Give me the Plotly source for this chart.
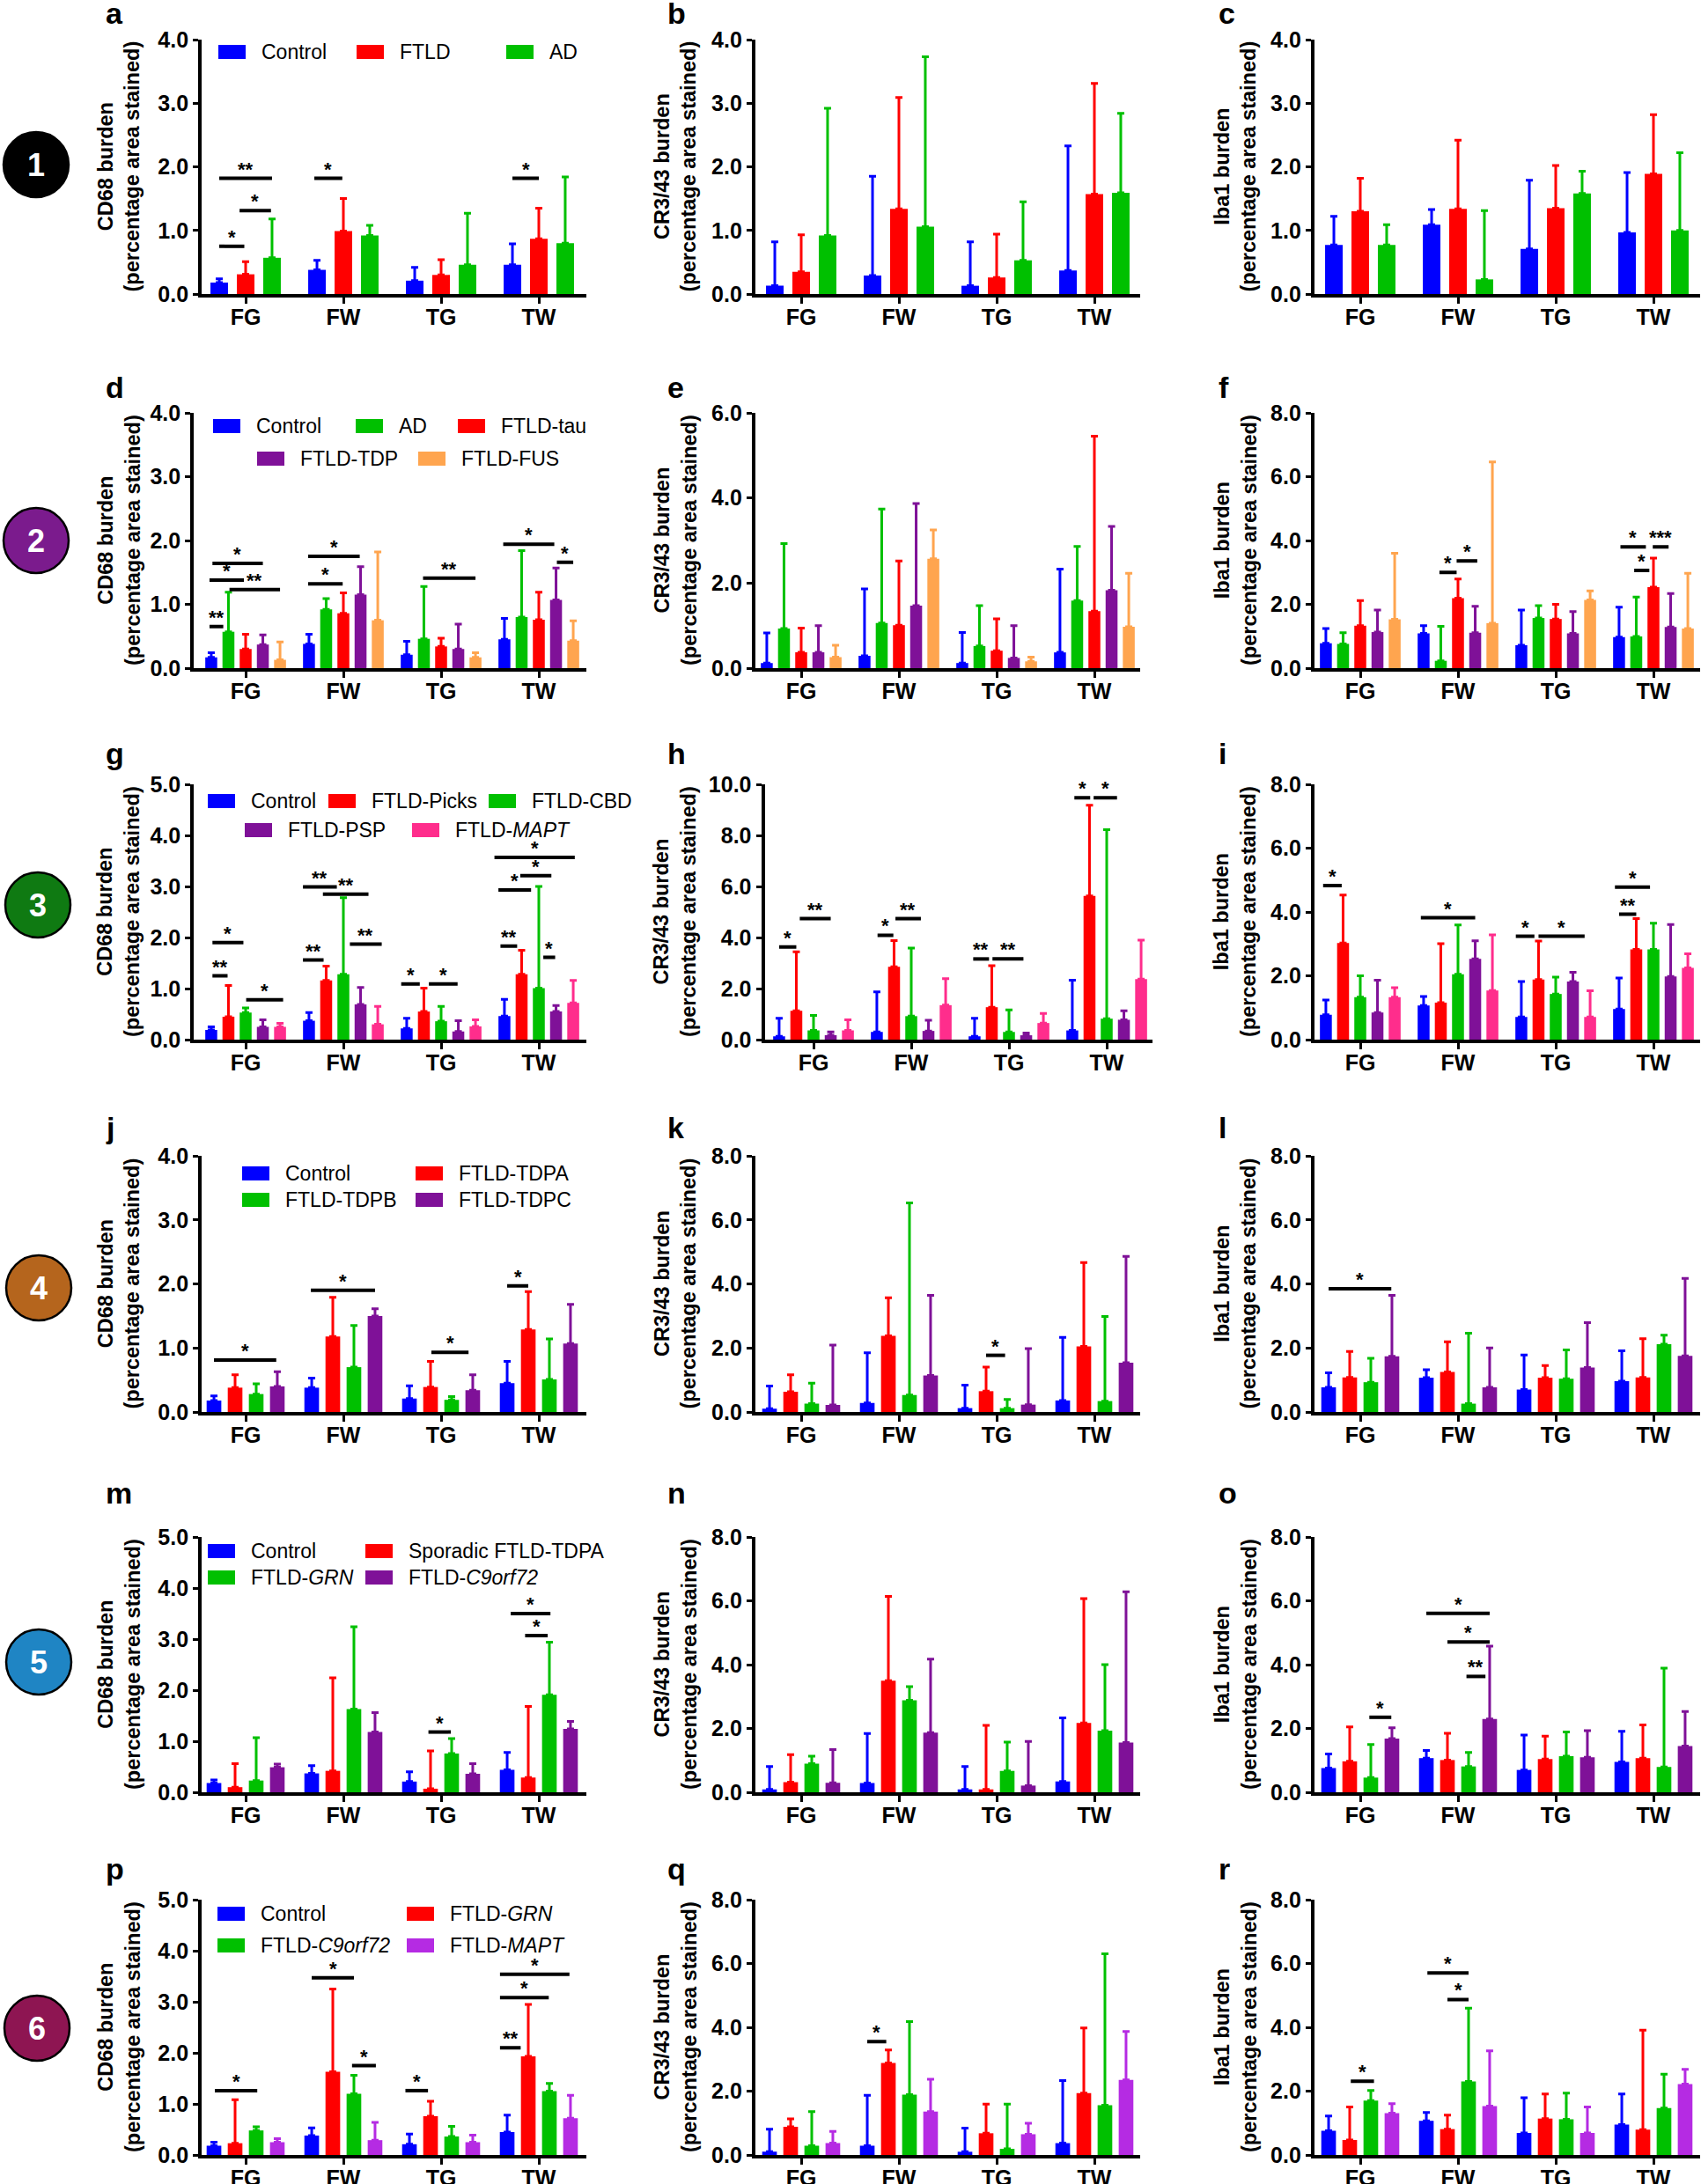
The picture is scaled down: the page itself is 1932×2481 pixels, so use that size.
import plotly.graph_objects as go

W, H = 1932, 2481
FONT = "Liberation Sans, Arial, Helvetica, sans-serif"

REGIONS = ["FG", "FW", "TG", "TW"]
Y_TITLES = ["CD68 burden", "CR3/43 burden", "Iba1 burden"]
Y_SUB = "(percentage area stained)"

BLUE, RED, GREEN = "#0000FF", "#FF0000", "#00C000"
PURPLE, ORANGE, PINK, VIOLET = "#7F1198", "#FFA54F", "#FF2D8C", "#B52BE3"

# ---------------- series per row ----------------
row1_names = ["Control", "FTLD", "AD"]
row1_colors = [BLUE, RED, GREEN]
row2_names = ["Control", "AD", "FTLD-tau", "FTLD-TDP", "FTLD-FUS"]
row2_colors = [BLUE, GREEN, RED, PURPLE, ORANGE]
row3_names = ["Control", "FTLD-Picks", "FTLD-CBD", "FTLD-PSP", "FTLD-<i>MAPT</i>"]
row3_colors = [BLUE, RED, GREEN, PURPLE, PINK]
row4_names = ["Control", "FTLD-TDPA", "FTLD-TDPB", "FTLD-TDPC"]
row4_colors = [BLUE, RED, GREEN, PURPLE]
row5_names = ["Control", "Sporadic FTLD-TDPA", "FTLD-<i>GRN</i>", "FTLD-<i>C9orf72</i>"]
row5_colors = [BLUE, RED, GREEN, PURPLE]
row6_names = ["Control", "FTLD-<i>GRN</i>", "FTLD-<i>C9orf72</i>", "FTLD-<i>MAPT</i>"]
row6_colors = [BLUE, RED, GREEN, VIOLET]

# ---------------- values: mean per series (FG, FW, TG, TW) and top of error bar ----------------
a_mean = [[0.18, 0.38, 0.21, 0.46], [0.31, 0.99, 0.30, 0.87], [0.57, 0.92, 0.46, 0.80]]
a_up = [[0.24, 0.53, 0.42, 0.79], [0.51, 1.50, 0.54, 1.35], [1.18, 1.08, 1.27, 1.84]]
b_mean = [[0.13, 0.29, 0.13, 0.37], [0.35, 1.34, 0.26, 1.57], [0.92, 1.06, 0.53, 1.59]]
b_up = [[0.82, 1.85, 0.82, 2.33], [0.93, 3.09, 0.94, 3.31], [2.92, 3.73, 1.45, 2.84]]
c_mean = [[0.77, 1.09, 0.71, 0.97], [1.30, 1.34, 1.35, 1.89], [0.77, 0.23, 1.58, 1.00]]
c_up = [[1.22, 1.33, 1.79, 1.91], [1.82, 2.42, 2.02, 2.82], [1.09, 1.31, 1.93, 2.22]]

d_mean = [[0.17, 0.38, 0.21, 0.45], [0.57, 0.92, 0.46, 0.80], [0.30, 0.86, 0.34, 0.76],
          [0.37, 1.15, 0.30, 1.07], [0.13, 0.75, 0.17, 0.43]]
d_up = [[0.24, 0.53, 0.42, 0.78], [1.19, 1.09, 1.28, 1.84], [0.53, 1.18, 0.47, 1.19],
        [0.52, 1.59, 0.69, 1.57], [0.41, 1.82, 0.24, 0.74]]
e_mean = [[0.12, 0.29, 0.12, 0.37], [0.93, 1.06, 0.52, 1.59], [0.37, 1.01, 0.41, 1.34],
          [0.37, 1.47, 0.24, 1.83], [0.26, 2.57, 0.16, 0.97]]
e_up = [[0.83, 1.86, 0.84, 2.33], [2.93, 3.74, 1.47, 2.86], [0.94, 2.52, 1.16, 5.45],
        [1.00, 3.87, 1.00, 3.33], [0.54, 3.25, 0.26, 2.23]]
f_mean = [[0.78, 1.09, 0.72, 0.97], [0.76, 0.23, 1.57, 0.99], [1.33, 2.19, 1.54, 2.54],
          [1.13, 1.11, 1.09, 1.29], [1.53, 1.41, 2.14, 1.24]]
f_up = [[1.24, 1.33, 1.82, 1.91], [1.11, 1.31, 1.96, 2.23], [2.12, 2.79, 2.00, 3.45],
        [1.82, 1.94, 1.77, 2.34], [3.60, 6.46, 2.42, 2.97]]

g_mean = [[0.19, 0.37, 0.22, 0.46], [0.45, 1.16, 0.55, 1.28], [0.53, 1.28, 0.36, 1.01],
          [0.25, 0.69, 0.16, 0.55], [0.25, 0.30, 0.26, 0.72]]
g_up = [[0.25, 0.53, 0.42, 0.79], [1.06, 1.44, 1.01, 1.75], [0.62, 2.78, 0.65, 3.00],
        [0.39, 1.02, 0.37, 0.67], [0.32, 0.65, 0.39, 1.16]]
h_mean = [[0.13, 0.30, 0.13, 0.36], [1.13, 2.85, 1.27, 5.63], [0.36, 0.92, 0.30, 0.82],
          [0.17, 0.34, 0.17, 0.78], [0.36, 1.35, 0.65, 2.37]]
h_up = [[0.84, 1.87, 0.84, 2.33], [3.44, 3.88, 2.90, 9.18], [0.95, 3.59, 1.16, 8.22],
        [0.30, 0.76, 0.26, 1.13], [0.78, 2.39, 1.03, 3.90]]
i_mean = [[0.78, 1.07, 0.71, 0.96], [3.03, 1.16, 1.88, 2.83], [1.33, 2.05, 1.43, 2.83],
          [0.85, 2.53, 1.82, 1.98], [1.33, 1.54, 0.71, 2.25]]
i_up = [[1.24, 1.35, 1.82, 1.93], [4.53, 3.01, 3.09, 3.79], [2.00, 3.59, 1.96, 3.65],
        [1.86, 3.10, 2.11, 3.61], [1.63, 3.28, 1.53, 2.69]]

j_mean = [[0.18, 0.38, 0.21, 0.45], [0.38, 1.18, 0.39, 1.29], [0.28, 0.70, 0.19, 0.51], [0.40, 1.50, 0.34, 1.07]]
j_up = [[0.25, 0.53, 0.41, 0.79], [0.58, 1.79, 0.79, 1.88], [0.44, 1.35, 0.24, 1.14], [0.63, 1.61, 0.58, 1.68]]
k_mean = [[0.10, 0.28, 0.12, 0.36], [0.63, 2.38, 0.65, 2.05], [0.26, 0.53, 0.12, 0.34], [0.22, 1.14, 0.23, 1.54]]
k_up = [[0.81, 1.85, 0.84, 2.33], [1.16, 3.57, 1.40, 4.67], [0.90, 6.53, 0.39, 2.98], [2.09, 3.64, 1.98, 4.86]]
l_mean = [[0.77, 1.07, 0.70, 0.96], [1.08, 1.25, 1.07, 1.08], [0.93, 0.26, 1.04, 2.12], [1.74, 0.77, 1.39, 1.75]]
l_up = [[1.22, 1.32, 1.78, 1.91], [1.89, 2.19, 1.45, 2.29], [1.68, 2.46, 1.94, 2.40], [3.64, 2.00, 2.79, 4.17]]

m_mean = [[0.18, 0.37, 0.21, 0.44], [0.10, 0.42, 0.07, 0.29], [0.23, 1.63, 0.76, 1.91], [0.49, 1.18, 0.36, 1.24]]
m_up = [[0.24, 0.52, 0.40, 0.78], [0.56, 2.24, 0.81, 1.68], [1.07, 3.24, 1.05, 2.94], [0.55, 1.56, 0.56, 1.39]]
n_mean = [[0.09, 0.29, 0.09, 0.34], [0.32, 3.50, 0.09, 2.17], [0.90, 2.88, 0.67, 1.93], [0.30, 1.87, 0.21, 1.56]]
n_up = [[0.81, 1.84, 0.81, 2.33], [1.18, 6.14, 2.10, 6.07], [1.13, 3.31, 1.57, 4.00], [1.34, 4.17, 1.59, 6.28]]
o_mean = [[0.76, 1.07, 0.70, 0.95], [0.97, 1.01, 1.04, 1.07], [0.46, 0.81, 1.13, 0.79], [1.68, 2.30, 1.10, 1.45]]
o_up = [[1.20, 1.31, 1.79, 1.91], [2.05, 1.85, 1.76, 2.11], [1.50, 1.25, 1.89, 3.89], [2.02, 4.58, 1.93, 2.53]]

p_mean = [[0.18, 0.38, 0.21, 0.45], [0.23, 1.63, 0.76, 1.93], [0.48, 1.20, 0.36, 1.25], [0.25, 0.29, 0.25, 0.72]]
p_up = [[0.25, 0.53, 0.41, 0.78], [1.08, 3.25, 1.05, 2.95], [0.55, 1.56, 0.56, 1.40], [0.32, 0.64, 0.39, 1.17]]
q_mean = [[0.10, 0.29, 0.10, 0.37], [0.88, 2.88, 0.68, 1.94], [0.29, 1.89, 0.19, 1.56], [0.37, 1.36, 0.65, 2.35]]
q_up = [[0.81, 1.87, 0.84, 2.33], [1.13, 3.29, 1.59, 3.98], [1.36, 4.18, 1.59, 6.30], [0.74, 2.37, 0.99, 3.87]]
r_mean = [[0.76, 1.07, 0.69, 0.95], [0.47, 0.81, 1.14, 0.79], [1.70, 2.30, 1.12, 1.47], [1.31, 1.53, 0.69, 2.22]]
r_up = [[1.22, 1.33, 1.79, 1.91], [1.50, 1.25, 1.91, 3.91], [2.02, 4.60, 1.94, 2.53], [1.61, 3.26, 1.50, 2.68]]

# ---------------- significance brackets: (region, from bar, to bar, level, label) ----------------
a_sig = [(0, 0, 0.95, 0.75, "*"), (0, 0.77, 1.96, 1.31, "*"), (0, 0, 2, 1.82, "**"),
         (1, -0.1, 0.96, 1.82, "*"), (3, 0, 1, 1.82, "*")]
d_sig = [(0, -0.1, 0.7, 0.65, "**"), (0, -0.1, 1.9, 1.38, "*"), (0, 0.07, 3.0, 1.64, "*"),
         (0, 1.06, 4.0, 1.23, "**"), (1, -0.05, 1.96, 1.32, "*"), (1, -0.05, 2.95, 1.75, "*"),
         (2, 0.95, 4.0, 1.41, "**"), (3, -0.07, 2.9, 1.94, "*"), (3, 3.05, 4.0, 1.66, "*")]
f_sig = [(1, 0.92, 1.92, 3.0, "*"), (1, 1.92, 3.12, 3.36, "*"), (3, 0.08, 1.56, 3.8, "*"),
         (3, 0.88, 1.76, 3.06, "*"), (3, 1.96, 2.88, 3.8, "***")]
g_sig = [(0, 0.07, 0.95, 1.25, "**"), (0, 0.07, 1.87, 1.90, "*"), (0, 2.03, 4.18, 0.78, "*"),
         (1, -0.35, 0.85, 1.56, "**"), (1, -0.35, 1.62, 2.99, "**"), (1, 0.81, 3.46, 2.85, "**"),
         (1, 2.38, 4.23, 1.87, "**"), (2, -0.32, 0.76, 1.09, "*"), (2, 1.29, 2.96, 1.09, "*"),
         (3, -0.23, 0.74, 1.83, "**"), (3, -0.35, 1.55, 2.93, "*"), (3, 0.92, 2.73, 3.21, "*"),
         (3, -0.58, 4.09, 3.57, "*"), (3, 2.26, 2.95, 1.61, "*")]
h_sig = [(0, 0, 1, 3.63, "*"), (0, 1.2, 3.0, 4.74, "**"), (1, 0.04, 0.96, 4.09, "*"),
         (1, 1.08, 2.56, 4.74, "**"), (2, -0.08, 0.84, 3.16, "**"), (2, 1.04, 2.84, 3.16, "**"),
         (3, 0.12, 1.04, 9.47, "*"), (3, 1.24, 2.6, 9.47, "*")]
i_sig = [(0, -0.16, 0.92, 4.83, "*"), (1, -0.16, 3.0, 3.82, "*"), (2, -0.32, 0.76, 3.24, "*"),
         (2, 1.0, 3.68, 3.24, "*"), (3, 0, 1, 3.93, "**"), (3, -0.24, 1.8, 4.78, "*")]
j_sig = [(0, 0, 2.95, 0.81, "*"), (1, -0.04, 3.0, 1.90, "*"), (2, 1.04, 2.8, 0.93, "*"), (3, 0, 1, 1.97, "*")]
k_sig = [(2, 1.0, 1.9, 1.77, "*")]
l_sig = [(0, 0, 2.97, 3.85, "*")]
m_sig = [(2, 0.9, 1.96, 1.18, "*"), (3, 0.85, 1.92, 3.07, "*"), (3, 0.17, 2.05, 3.5, "*")]
o_sig = [(0, 1.93, 2.97, 2.35, "*"), (1, 1.9, 2.8, 3.63, "**"), (1, 1.0, 3.0, 4.71, "*"), (1, 0, 3, 5.61, "*")]
p_sig = [(0, 0.04, 2.05, 1.26, "*"), (1, 0, 2, 3.47, "*"), (1, 1.91, 3.04, 1.75, "*"),
         (2, -0.19, 0.88, 1.26, "*"), (3, -0.34, 0.64, 2.1, "**"), (3, -0.34, 1.97, 3.08, "*"),
         (3, -0.34, 2.95, 3.54, "*")]
q_sig = [(1, 0, 0.9, 3.55, "*")]
r_sig = [(0, 1.05, 2.15, 2.31, "*"), (1, 1, 2, 4.87, "*"), (1, 0.05, 2, 5.7, "*")]

ROW_SERIES = {1: (row1_names, row1_colors), 2: (row2_names, row2_colors), 3: (row3_names, row3_colors),
              4: (row4_names, row4_colors), 5: (row5_names, row5_colors), 6: (row6_names, row6_colors)}

# letter, row, col, y max, y step, means, uppers, brackets
PANELS = [
    ("a", 1, 1, 4, 1, a_mean, a_up, a_sig), ("b", 1, 2, 4, 1, b_mean, b_up, []), ("c", 1, 3, 4, 1, c_mean, c_up, []),
    ("d", 2, 1, 4, 1, d_mean, d_up, d_sig), ("e", 2, 2, 6, 2, e_mean, e_up, []), ("f", 2, 3, 8, 2, f_mean, f_up, f_sig),
    ("g", 3, 1, 5, 1, g_mean, g_up, g_sig), ("h", 3, 2, 10, 2, h_mean, h_up, h_sig), ("i", 3, 3, 8, 2, i_mean, i_up, i_sig),
    ("j", 4, 1, 4, 1, j_mean, j_up, j_sig), ("k", 4, 2, 8, 2, k_mean, k_up, k_sig), ("l", 4, 3, 8, 2, l_mean, l_up, l_sig),
    ("m", 5, 1, 5, 1, m_mean, m_up, m_sig), ("n", 5, 2, 8, 2, n_mean, n_up, []), ("o", 5, 3, 8, 2, o_mean, o_up, o_sig),
    ("p", 6, 1, 5, 1, p_mean, p_up, p_sig), ("q", 6, 2, 8, 2, q_mean, q_up, q_sig), ("r", 6, 3, 8, 2, r_mean, r_up, r_sig),
]

# ---------------- layout geometry (pixels) ----------------
ROW_Y = {1: (45, 334), 2: (469, 759), 3: (891, 1181), 4: (1313, 1604), 5: (1746, 2036), 6: (2158, 2448)}
ROW_BASE = {1: 27, 2: 452, 3: 868, 4: 1293, 5: 1708, 6: 2135}
COL_FG = {1: 279, 2: 910, 3: 1545}
COL_L = {1: -0.45, 2: -0.47, 3: -0.47}
COL_R = {1: 3.49, 2: 3.47, 3: 3.48}
PANEL_FG = {"h": 924}
PANEL_L = {"d": -0.53, "g": -0.53, "h": -0.50}
UNIT = 111.0
TITLE_X = {1: 135, 2: 767, 3: 1403}
LETTER_X = {1: 118, 2: 756, 3: 1382}
GEOM = {3: (0.27, 0.18), 4: (0.216, 0.15), 5: (0.176, 0.122)}

CIRCLES = [("1", 41, 187, "#000000"), ("2", 41, 614, "#7B1B8D"), ("3", 43, 1028, "#0F7A12"),
           ("4", 44, 1463, "#B5651D"), ("5", 44, 1888, "#1F85C4"), ("6", 42, 2304, "#8E1552")]
CIRCLE_R = 37

LEGEND_POS = {
    1: [(0, 248, 59), (1, 405, 59), (2, 575, 59)],
    2: [(0, 242, 484), (1, 404, 484), (2, 520, 484), (3, 292, 521), (4, 475, 521)],
    3: [(0, 236, 910), (1, 373, 910), (2, 555, 910), (3, 278, 943), (4, 468, 943)],
    4: [(0, 275, 1333), (1, 472, 1333), (2, 275, 1363), (3, 472, 1363)],
    5: [(0, 236, 1762), (1, 415, 1762), (2, 236, 1792), (3, 415, 1792)],
    6: [(0, 247, 2174), (1, 462, 2174), (2, 247, 2210), (3, 462, 2210)],
}


def px(x):
    return x / W


def py(y):
    return 1 - y / H


fig = go.Figure()
shapes, annotations = [], []
layout = {}

for k, (letter, row, col, ymax, dtick, means, ups, sig) in enumerate(PANELS, start=1):
    names, colors = ROW_SERIES[row]
    n = len(names)
    spacing, bw = GEOM[n]
    fg = PANEL_FG.get(letter, COL_FG[col])
    L = PANEL_L.get(letter, COL_L[col])
    R = COL_R[col]
    x0p, x1p = fg + L * UNIT, fg + R * UNIT
    yt, yb = ROW_Y[row]
    xs = "x" if k == 1 else f"x{k}"
    ys = "y" if k == 1 else f"y{k}"

    for s in range(n):
        off = (s - (n - 1) / 2) * spacing
        err = [u - m for m, u in zip(means[s], ups[s])]
        fig.add_trace(go.Bar(
            x=list(range(len(REGIONS))), y=means[s], width=bw, offset=off - bw / 2,
            marker=dict(color=colors[s], line=dict(width=0)),
            error_y=dict(type="data", array=err, arrayminus=[0] * len(err), symmetric=False,
                         color=colors[s], thickness=3, width=4),
            xaxis=xs, yaxis=ys, showlegend=False, name=names[s]))

    for (reg, b0, b1, lvl, lab) in sig:
        xa = reg + (b0 - (n - 1) / 2) * spacing
        xb = reg + (b1 - (n - 1) / 2) * spacing
        shapes.append(dict(type="line", xref=xs, yref=ys, x0=xa, x1=xb, y0=lvl, y1=lvl,
                           line=dict(color="black", width=4)))
        annotations.append(dict(xref=xs, yref=ys, x=(xa + xb) / 2, y=lvl, text=f"<b>{lab}</b>",
                                showarrow=False, xanchor="center", yanchor="bottom", yshift=-3,
                                borderpad=0, font=dict(family=FONT, size=22, color="black")))

    axkey = "xaxis" if k == 1 else f"xaxis{k}"
    aykey = "yaxis" if k == 1 else f"yaxis{k}"
    layout[axkey] = dict(domain=[px(x0p), px(x1p)], range=[L, R], anchor=ys, type="linear",
                         automargin=False, ticklabelstandoff=-6,
                         showline=True, linecolor="black", linewidth=4, ticks="outside", ticklen=7,
                         tickwidth=3, tickcolor="black", tickvals=list(range(len(REGIONS))), ticktext=REGIONS,
                         tickfont=dict(family=FONT, size=25, color="black", weight="bold"),
                         showgrid=False, zeroline=False, fixedrange=True)
    layout[aykey] = dict(domain=[py(yb), py(yt)], range=[0, ymax], anchor=xs, showline=True,
                         automargin=False,
                         linecolor="black", linewidth=4, ticks="outside", ticklen=6, tickwidth=3,
                         tickcolor="black", tick0=0, dtick=dtick, tickformat=".1f",
                         tickfont=dict(family=FONT, size=25, color="black", weight="bold"),
                         showgrid=False, zeroline=False, fixedrange=True)

    # y title
    annotations.append(dict(xref="paper", yref="paper", x=px(TITLE_X[col]), y=py((yt + yb) / 2),
                            text=f"<b>{Y_TITLES[col - 1]}</b><br><b>{Y_SUB}</b>", textangle=-90,
                            showarrow=False, xanchor="center", yanchor="middle",
                            font=dict(family=FONT, size=23.5, color="black")))
    # panel letter
    annotations.append(dict(xref="paper", yref="paper", x=px(LETTER_X[col]), y=py(ROW_BASE[row] - 12),
                            text=f"<b>{letter}</b>", showarrow=False, xanchor="left", yanchor="middle",
                            font=dict(family=FONT, size=34, color="black")))

# legends drawn per row
for row, entries in LEGEND_POS.items():
    names, colors = ROW_SERIES[row]
    for (s, sx, cy) in entries:
        shapes.append(dict(type="rect", xref="paper", yref="paper", x0=px(sx), x1=px(sx + 31),
                           y0=py(cy + 8), y1=py(cy - 8), fillcolor=colors[s], line=dict(width=0)))
        annotations.append(dict(xref="paper", yref="paper", x=px(sx + 47), y=py(cy), text=names[s],
                                showarrow=False, xanchor="left", yanchor="middle",
                                font=dict(family=FONT, size=23, color="black")))

# group circles
for (num, cx, cy, colr) in CIRCLES:
    r = CIRCLE_R
    shapes.append(dict(type="circle", xref="paper", yref="paper", x0=px(cx - r), x1=px(cx + r),
                       y0=py(cy + r), y1=py(cy - r), fillcolor=colr, line=dict(color="black", width=2.5)))
    annotations.append(dict(xref="paper", yref="paper", x=px(cx), y=py(cy), text=f"<b>{num}</b>",
                            showarrow=False, xanchor="center", yanchor="middle",
                            font=dict(family=FONT, size=36, color="white")))

fig.update_layout(width=W, height=H, margin=dict(l=0, r=0, t=0, b=0, autoexpand=False), autosize=False,
                  paper_bgcolor="white", plot_bgcolor="white", barmode="overlay",
                  showlegend=False, shapes=shapes, annotations=annotations, **layout)

fig.write_html("out.html", config={"displayModeBar": False},
               post_script="document.body.style.margin='0';document.body.style.overflow='hidden';")
